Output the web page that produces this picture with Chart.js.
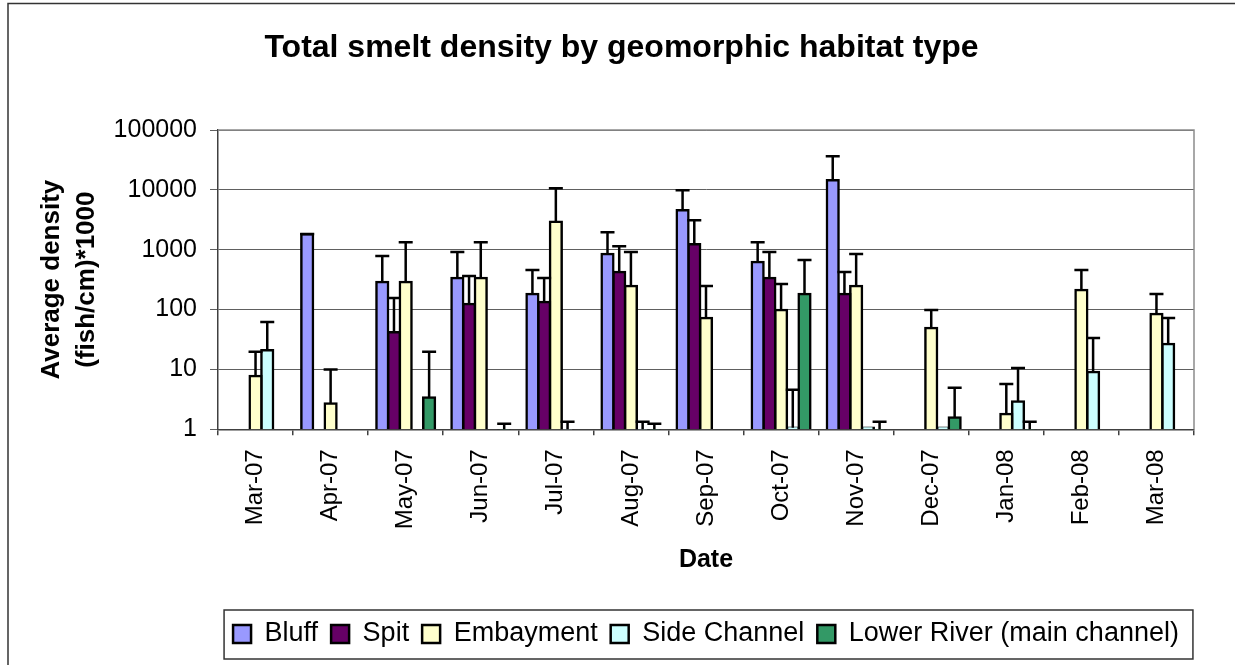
<!DOCTYPE html>
<html lang="en">
<head>
    <meta charset="UTF-8">
    <title>Total smelt density by geomorphic habitat type</title>
    <script src="https://cdn.jsdelivr.net/npm/chart.js"></script>
    <style>
        body {
            margin: 0;
            background: #ffffff;
        }
        #wrap {
            width: 1235px;
            height: 665px;
        }
    </style>
</head>
<body>

<div id="wrap">
    <canvas id="smeltChart" width="1235" height="665"></canvas>
</div>

<script>
    // categories
    const months = ['Mar-07', 'Apr-07', 'May-07', 'Jun-07', 'Jul-07', 'Aug-07', 'Sep-07',
        'Oct-07', 'Nov-07', 'Dec-07', 'Jan-08', 'Feb-08', 'Mar-08'];

    // average density (fish/cm)*1000 per habitat, null = no fish
    const bluff = [null, 1820, 288, 336, 182, 845, 4570, 621, 14450, null, null, null, null];
    const spit = [null, null, 42, 124, 134, 424, 1240, 336, 182, null, null, null, null];
    const embayment = [7.8, 2.7, 288, 336, 2930, 247, 72, 98, 247, 49, 1.8, 212, 84];
    const sideChannel = [21, null, null, null, 0.3, 0.3, null, 1.06, 1.06, 1.06, 2.9, 9.1, 26.7];
    const lowerRiver = [null, null, 3.4, 0.3, null, 0.3, null, 182, 0.3, 1.58, 0.3, null, null];

    // standard error (upper bar only)
    const bluffErr = [null, 15, 494, 576, 275, 1120, 5270, 718, 21850, null, null, null, null];
    const spitErr = [null, null, 114, 239, 202, 724, 1870, 576, 242, null, null, null, null];
    const embaymentErr = [11.9, 7.3, 1050, 1000, 7700, 665, 175, 169, 598, 49, 3.9, 245, 98];
    const sideChannelErr = [41, null, null, null, 1.04, 1.04, null, 3.5, null, null, 7.7, 24.5, 45.7];
    const lowerRiverErr = [null, null, 16.3, 0.94, null, 0.94, null, 489, 1.04, 3.35, 1.04, null, null];

    // y axis tick labels
    const yTicks = [1, 10, 100, 1000, 10000, 100000];

    const FONT = 'Arial, "Liberation Sans", sans-serif';

    // error bars on top of the bars
    const errorBars = {
        id: 'errorBars',
        afterDatasetsDraw(chart) {
            const ctx = chart.ctx;
            const y = chart.scales.y;
            ctx.save();
            ctx.strokeStyle = '#000000';
            ctx.lineWidth = 2.5;
            chart.data.datasets.forEach((ds, i) => {
                const meta = chart.getDatasetMeta(i);
                ds.errors.forEach((e, j) => {
                    if (e == null || ds.data[j] == null) return;
                    const bar = meta.data[j];
                    const from = Math.min(y.getPixelForValue(ds.data[j]), y.bottom);
                    const to = y.getPixelForValue(ds.data[j] + e);
                    ctx.beginPath();
                    ctx.moveTo(bar.x, from);
                    ctx.lineTo(bar.x, to);
                    ctx.moveTo(bar.x - 7, to);
                    ctx.lineTo(bar.x + 7, to);
                    ctx.stroke();
                });
            });
            ctx.restore();
        }
    };

    // frame, plot border and legend box
    const frames = {
        id: 'frames',
        afterDraw(chart) {
            const ctx = chart.ctx;
            const a = chart.chartArea;
            ctx.save();
            // outer chart frame (top and left visible)
            ctx.strokeStyle = '#333333';
            ctx.lineWidth = 1.5;
            ctx.beginPath();
            ctx.moveTo(8, 665);
            ctx.lineTo(8, 3.5);
            ctx.lineTo(1235, 3.5);
            ctx.stroke();
            // plot area top and right border
            ctx.strokeStyle = '#8c8c8c';
            ctx.lineWidth = 1.5;
            ctx.beginPath();
            ctx.moveTo(a.left, a.top);
            ctx.lineTo(a.right, a.top);
            ctx.lineTo(a.right, a.bottom);
            ctx.stroke();
            // legend box
            const boxes = chart.legend.legendHitBoxes;
            if (boxes.length) {
                const first = boxes[0];
                const last = boxes[boxes.length - 1];
                const left = first.left - 9;
                const right = last.left + last.width + 14;
                const top = first.top - 10.5;
                ctx.strokeStyle = '#333333';
                ctx.lineWidth = 1.5;
                ctx.strokeRect(left, top, right - left, 49);
            }
            ctx.restore();
        }
    };

    const barStyle = {
        borderColor: '#000000',
        borderWidth: 2.5,
        inflateAmount: 1.25,
        categoryPercentage: 0.78,
        barPercentage: 1.0
    };

    const data = {
        labels: months,
        datasets: [{
            label: 'Bluff',
            data: bluff,
            errors: bluffErr,
            backgroundColor: '#9999ff',
            ...barStyle
        }, {
            label: 'Spit',
            data: spit,
            errors: spitErr,
            backgroundColor: '#660066',
            ...barStyle
        }, {
            label: 'Embayment',
            data: embayment,
            errors: embaymentErr,
            backgroundColor: '#ffffcc',
            ...barStyle
        }, {
            label: 'Side Channel',
            data: sideChannel,
            errors: sideChannelErr,
            backgroundColor: '#ccffff',
            ...barStyle
        }, {
            label: 'Lower River (main channel)',
            data: lowerRiver,
            errors: lowerRiverErr,
            backgroundColor: '#339966',
            ...barStyle
        }]
    };

    const config = {
        type: 'bar',
        data: data,
        options: {
            responsive: false,
            animation: false,
            layout: {
                padding: { left: 8, right: 0, top: 0, bottom: 7.5 }
            },
            plugins: {
                title: {
                    display: true,
                    text: 'Total smelt density by geomorphic habitat type',
                    color: '#000000',
                    font: { family: FONT, size: 32, weight: 'bold', lineHeight: 1.2 },
                    padding: { top: 29, bottom: 62.6 }
                },
                legend: {
                    position: 'bottom',
                    fullSize: false,
                    labels: {
                        color: '#000000',
                        boxWidth: 18,
                        boxHeight: 18,
                        padding: 13,
                        font: { family: FONT, size: 27 }
                    }
                },
                tooltip: { enabled: false }
            },
            scales: {
                x: {
                    grid: {
                        display: true,
                        drawOnChartArea: false,
                        offset: true,
                        tickLength: 6,
                        color: '#404040',
                        lineWidth: 1.5
                    },
                    border: { color: '#404040', width: 1.5 },
                    ticks: {
                        color: '#000000',
                        autoSkip: false,
                        minRotation: 90,
                        maxRotation: 90,
                        padding: 14,
                        font: { family: FONT, size: 24 }
                    },
                    title: {
                        display: true,
                        text: 'Date',
                        color: '#000000',
                        font: { family: FONT, size: 25, weight: 'bold', lineHeight: 1.2 },
                        padding: { top: 0, bottom: 32 }
                    },
                    afterFit(scale) {
                        scale.height = 178.2;
                    }
                },
                y: {
                    type: 'logarithmic',
                    min: 1,
                    max: 100000,
                    afterBuildTicks(scale) {
                        scale.ticks = yTicks.map(v => ({ value: v }));
                    },
                    grid: {
                        color: '#606060',
                        lineWidth: 1,
                        tickLength: 8
                    },
                    border: { color: '#404040', width: 1.5 },
                    ticks: {
                        color: '#000000',
                        padding: 13,
                        font: { family: FONT, size: 25 },
                        callback: v => String(v)
                    },
                    title: {
                        display: true,
                        text: ['Average density', '(fish/cm)*1000'],
                        color: '#000000',
                        font: { family: FONT, size: 26, weight: 'bold', lineHeight: 1.35 },
                        padding: { top: 26.5, bottom: 0 }
                    },
                    afterFit(scale) {
                        scale.width = 210;
                    }
                },
                // empty right axis, only keeps space right of the plot
                y2: {
                    type: 'linear',
                    position: 'right',
                    display: true,
                    grid: { display: false },
                    ticks: { display: false },
                    border: { display: false },
                    afterFit(scale) {
                        scale.width = 41;
                    }
                }
            }
        },
        plugins: [errorBars, frames]
    };

    const smeltChart = new Chart(document.getElementById('smeltChart'), config);
</script>

</body>
</html>
